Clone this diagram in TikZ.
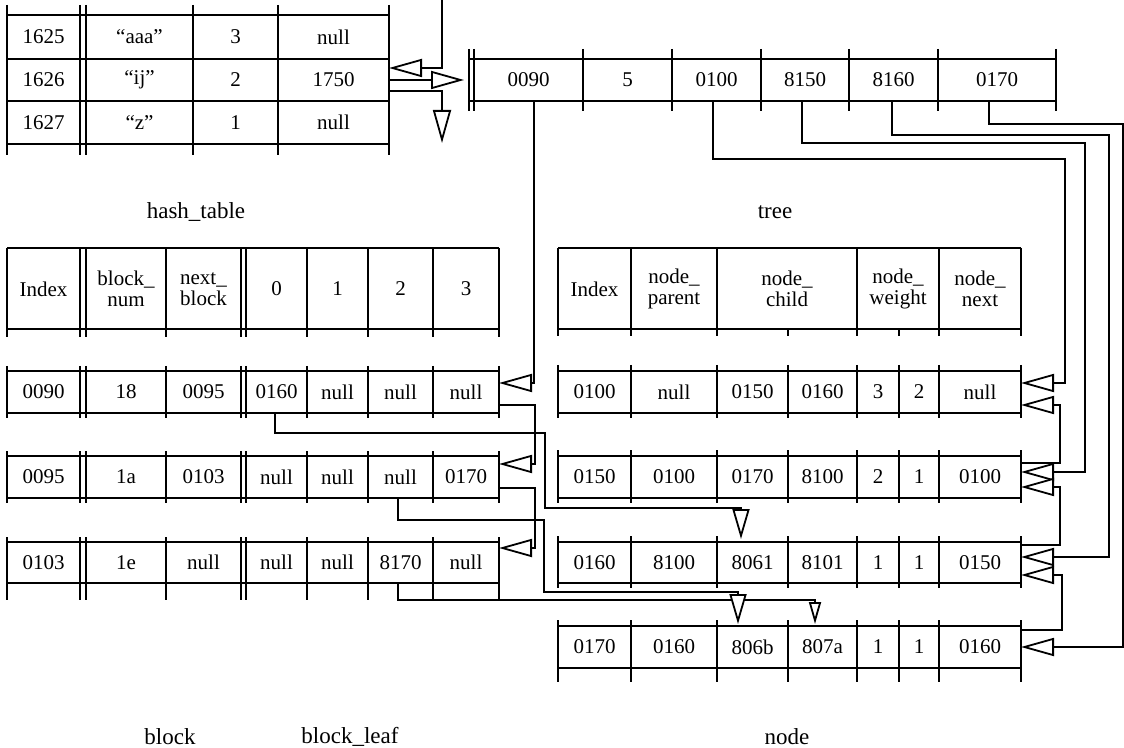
\documentclass[tikz,border=0pt]{standalone}
\usepackage{fontspec}
\setmainfont{Liberation Serif}
\usetikzlibrary{arrows.meta}
\begin{document}
\begin{tikzpicture}[x=0.5pt,y=-0.5pt,
  tbl/.style={line width=0.9pt},
  con/.style={line width=0.9pt},
  cell/.style={font=\fontsize{10.5}{10.5}\selectfont, inner sep=0pt, align=center},
  ttl/.style={font=\fontsize{11.5}{13}\selectfont, inner sep=0pt},
  tri/.style={-{Triangle[fill=white,length=16.5pt,width=9pt]}},
  trid/.style={-{Triangle[fill=white,length=15pt,width=8.5pt]}},
  tris/.style={-{Triangle[fill=white,length=11pt,width=6pt]}}]
\useasboundingbox (0,0) rectangle (1124,748);

% ---------------- hash table ----------------
\foreach \y in {15,59,101,144} \draw[tbl] (7,\y) -- (389,\y);
\foreach \x in {7,80,86,193,278,389} \draw[tbl] (\x,5) -- (\x,155);
\foreach \t/\x [count=\c] in {1625/43.5,“aaa”/139.5,3/235.5,null/333.5}
  \node[cell] (h1\c) at (\x,37) {\t};
\foreach \t/\x [count=\c] in {1626/43.5,“ij”/139.5,2/235.5,1750/333.5}
  \node[cell] (h2\c) at (\x,80) {\t};
\foreach \t/\x [count=\c] in {1627/43.5,“z”/139.5,1/235.5,null/333.5}
  \node[cell] (h3\c) at (\x,122.5) {\t};

% ---------------- tree ----------------
\foreach \y in {59,101} \draw[tbl] (469,\y) -- (1056,\y);
\foreach \x in {469,474,583,672,761,849,938,1056} \draw[tbl] (\x,49) -- (\x,111);
\foreach \t/\x [count=\c] in {0090/528.5,5/627.5,0100/716.5,8150/805,8160/893.5,0170/997}
  \node[cell] (t\c) at (\x,80) {\t};

% ---------------- block header ----------------
\foreach \y in {248,329} \draw[tbl] (7,\y) -- (499,\y);
\foreach \x in {7,80,86,166,241,246,307,368,433,499} \draw[tbl] (\x,248) -- (\x,337);
\foreach \t/\x [count=\c] in {Index/43.5,block\_\\num/126,next\_\\block/203.5,0/276.5,1/337.5,2/400.5,3/466}
  \node[cell] (bh\c) at (\x,289) {\t};

% ---------------- block rows ----------------
\foreach \ya/\yb/\yc in {371/413/418,456/498/503,542/583/600} {
  \draw[tbl] (7,\ya) -- (499,\ya) (7,\yb) -- (499,\yb);
  \foreach \x in {7,80,86,166,241,246,307,368,433,499} \draw[tbl] (\x,\ya-5) -- (\x,\yc);
}
\foreach \t/\x [count=\c] in {0090/43.5,18/126,0095/203.5,0160/276.5,null/337.5,null/400.5,null/466}
  \node[cell] (b1\c) at (\x,392) {\t};
\foreach \t/\x [count=\c] in {0095/43.5,1a/126,0103/203.5,null/276.5,null/337.5,null/400.5,0170/466}
  \node[cell] (b2\c) at (\x,477) {\t};
\foreach \t/\x [count=\c] in {0103/43.5,1e/126,null/203.5,null/276.5,null/337.5,8170/400.5,null/466}
  \node[cell] (b3\c) at (\x,562.5) {\t};

% ---------------- node header ----------------
\foreach \y in {248,329} \draw[tbl] (558,\y) -- (1021,\y);
\foreach \x in {558,631,717,857,939,1021} \draw[tbl] (\x,248) -- (\x,336);
\foreach \x in {788,899} \draw[tbl] (\x,329) -- (\x,336);
\foreach \t/\x [count=\c] in {Index/594.5,node\_\\parent/674,node\_\\child/787,node\_\\weight/898,node\_\\next/980}
  \node[cell] (nh\c) at (\x,289) {\t};

% ---------------- node rows ----------------
\foreach \ya/\yb/\yc in {371/413/418,456/498/503,542/583/588,626/668/682} {
  \draw[tbl] (558,\ya) -- (1021,\ya) (558,\yb) -- (1021,\yb);
  \foreach \x in {558,631,717,788,857,899,939,1021} \draw[tbl] (\x,\ya-6) -- (\x,\yc);
}
\foreach \t/\x [count=\c] in {0100/594.5,null/674,0150/752.5,0160/822.5,3/878,2/919,null/980}
  \node[cell] (n1\c) at (\x,392) {\t};
\foreach \t/\x [count=\c] in {0150/594.5,0100/674,0170/752.5,8100/822.5,2/878,1/919,0100/980}
  \node[cell] (n2\c) at (\x,477) {\t};
\foreach \t/\x [count=\c] in {0160/594.5,8100/674,8061/752.5,8101/822.5,1/878,1/919,0150/980}
  \node[cell] (n3\c) at (\x,562.5) {\t};
\foreach \t/\x [count=\c] in {0170/594.5,0160/674,806b/752.5,807a/822.5,1/878,1/919,0160/980}
  \node[cell] (n4\c) at (\x,647) {\t};

% ---------------- titles ----------------
\node[ttl] (lhash) at (196,212) {hash\_table};
\node[ttl] (ltree) at (775,212) {tree};
\node[ttl] (lblock) at (170,737) {block};
\node[ttl] (lleaf) at (350,737) {block\_leaf};
\node[ttl] (lnode) at (787,737) {node};

% ---------------- connection points ----------------
% hash
\coordinate (top) at (442,0);
\coordinate (hin) at (389,68);
\coordinate (hout1) at (389,80);
\coordinate (tin) at (464,80);
\coordinate (hout2) at (389,91);
\coordinate (hdown) at (442,143);
% tree pointers
\coordinate (tp1) at (534,101);
\coordinate (tp3) at (713,101);
\coordinate (tp4) at (802,101);
\coordinate (tp5) at (892,101);
\coordinate (tp6) at (989,101);
% block edges
\coordinate (bin1) at (499,383);
\coordinate (bout1) at (499,405);
\coordinate (bin2) at (499,464);
\coordinate (bout2) at (499,488);
\coordinate (bin3) at (499,548);
\coordinate (bl0) at (275,413);
\coordinate (bl2a) at (398,498);
\coordinate (bl2b) at (398,583);
% node edges
\coordinate (nin1a) at (1021,383);
\coordinate (nin1b) at (1021,405);
\coordinate (nin2a) at (1021,472);
\coordinate (nin2b) at (1021,487);
\coordinate (nin3a) at (1021,557);
\coordinate (nin3b) at (1021,575);
\coordinate (nin4a) at (1021,647);
\coordinate (nout2) at (1021,463);
\coordinate (nout3) at (1021,545);
\coordinate (nout4) at (1021,630);
\coordinate (ntop3) at (741,539);
\coordinate (ntop4a) at (738,624);
\coordinate (ntop4b) at (815,624);

% ---------------- connectors ----------------
% hash table arrows
\draw[con,tri] (top) |- (hin);
\draw[con,tri] (hout1) -- (tin);
\draw[con,tri] (hout2) -| (hdown);
% tree -> block
\draw[con,tri] (tp1) |- (bin1);
% block next_block
\draw[con,tri] (bout1) -- ++(36,0) |- (bin2);
\draw[con,tri] (bout2) -- ++(36,0) |- (bin3);
% block -> node
\draw[con,trid] (bl0) -- ++(0,20) -| (545,508) -| (ntop3);
\draw[con,tris] (bl2b) -- ++(0,17) -| (ntop4b);
\draw[con,trid] (bl2a) -- ++(0,22) -| (544,592) -| (ntop4a);
% tree -> node
\draw[con,tri] (tp3) |- (1065,159) |- (nin1a);
\draw[con,tri] (tp4) |- (1085,143) |- (nin2a);
\draw[con,tri] (tp5) |- (1109,135) |- (nin3a);
\draw[con,tri] (tp6) |- (1123,124) |- (nin4a);
% node next
\draw[con,tri] (nout2) -- ++(39,0) |- (nin1b);
\draw[con,tri] (nout3) -- ++(39,0) |- (nin2b);
\draw[con,tri] (nout4) -- ++(41,0) |- (nin3b);
\end{tikzpicture}
\end{document}
